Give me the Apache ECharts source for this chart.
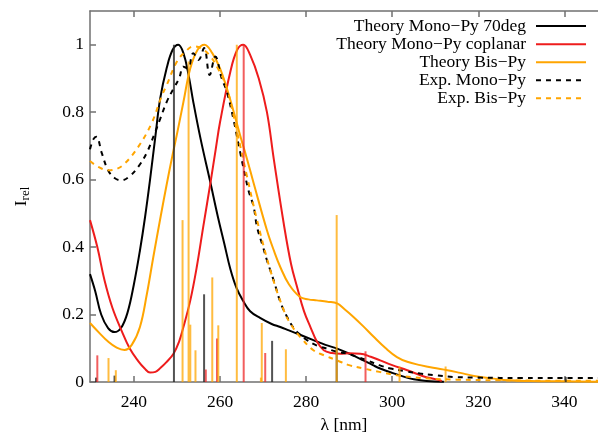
<!DOCTYPE html>
<html>
<head>
<meta charset="utf-8">
<script src="https://cdn.jsdelivr.net/npm/echarts@6/dist/echarts.min.js"></script>
<style>
  html, body { margin: 0; padding: 0; background: #fff; }
  #chart { width: 598px; height: 434px; }
</style>
</head>
<body>
<div id="chart"></div>
<script>
// 横轴刻度
const xTicks = [240, 260, 280, 300, 320, 340]
const yTicks = [0, 0.2, 0.4, 0.6, 0.8, 1]

// 图例名称
const names = [
  'Theory Mono\u2212Py 70deg',
  'Theory Mono\u2212Py coplanar',
  'Theory Bis\u2212Py',
  'Exp. Mono\u2212Py',
  'Exp. Bis\u2212Py'
]

// 理论谱 [λ, I]
const mono70 = [
  [229.8, 0.32], [231, 0.27], [232.4, 0.2], [234, 0.16], [235.5, 0.148], [237, 0.16],
  [238.5, 0.205], [240, 0.29], [241.4, 0.39], [242.6, 0.49], [243.75, 0.6], [245, 0.73],
  [246.1, 0.84], [247.6, 0.93], [249, 0.985], [250.3, 1.0], [251.5, 0.975], [252.7, 0.91],
  [253.8, 0.83], [255.5, 0.72], [257.7, 0.595], [259.5, 0.49], [261, 0.41], [262.4, 0.335],
  [263.8, 0.28], [265.4, 0.24], [267, 0.21], [269.3, 0.19], [272, 0.172], [274, 0.163],
  [276, 0.153], [278.6, 0.14], [281.7, 0.124], [284.5, 0.11], [287.2, 0.099], [290, 0.084],
  [293.3, 0.064], [295.5, 0.05], [297.2, 0.04], [300, 0.027], [303.4, 0.013], [305, 0.008],
  [308, 0.003], [312, 0.001]
]
const monoCop = [
  [229.8, 0.48], [231.5, 0.4], [233.2, 0.3], [235, 0.22], [237.1, 0.153], [239, 0.1],
  [241, 0.062], [242.5, 0.04], [243.75, 0.028], [245, 0.03], [246.2, 0.042],
  [247.5, 0.058], [249.2, 0.084], [250.5, 0.12], [251.5, 0.163], [253.1, 0.242],
  [254.6, 0.341], [256.1, 0.46], [257.9, 0.6], [259, 0.69], [260, 0.77], [262.4, 0.92],
  [264, 0.985], [265.4, 1.0], [267, 0.97], [269, 0.9], [270.9, 0.8], [272.5, 0.66],
  [274.8, 0.47], [276.5, 0.35], [277.9, 0.282], [279.5, 0.21], [281, 0.163], [282.5, 0.12],
  [284.1, 0.094], [286, 0.086], [288, 0.084], [290, 0.085], [292.6, 0.084], [295, 0.075],
  [297.2, 0.064], [300, 0.05], [303.5, 0.035], [307, 0.018], [310.4, 0.007], [311.5, 0.003]
]
const bisPy = [
  [229.8, 0.175], [232, 0.145], [234, 0.12], [236, 0.102], [237.8, 0.095], [239.5, 0.11],
  [241.4, 0.163], [243, 0.26], [244.5, 0.37], [246.2, 0.49], [247.6, 0.585], [249, 0.675],
  [250, 0.735], [251.5, 0.83], [253.1, 0.93], [254.8, 0.985], [256.4, 1.0], [258.2, 0.975],
  [260, 0.93], [261.6, 0.87], [263.2, 0.8], [264.7, 0.73], [266.3, 0.66], [267.8, 0.59],
  [270.9, 0.45], [272.5, 0.39], [274, 0.341], [276, 0.29], [278.6, 0.252], [280.5, 0.245],
  [282.5, 0.242], [285, 0.238], [287.2, 0.233], [289, 0.215], [291, 0.193], [293.3, 0.165],
  [295.7, 0.134], [298.5, 0.1], [301.1, 0.074], [303.5, 0.06], [306.5, 0.05],
  [309.5, 0.042], [312.8, 0.035], [315.8, 0.027], [319, 0.018], [323.6, 0.01],
  [327, 0.005], [332, 0.003], [340, 0.002], [347.8, 0.001]
]

// 实验谱 [λ, I]
const expMono = [
  [229.8, 0.69], [230.6, 0.72], [231.3, 0.727], [232.5, 0.68], [234, 0.628],
  [235.5, 0.605], [237.1, 0.598], [239, 0.61], [241, 0.638], [243, 0.68], [244.9, 0.74],
  [246.1, 0.78], [247.6, 0.83], [249.2, 0.87], [250.5, 0.9], [251.5, 0.935], [252.5, 0.93],
  [253.8, 0.975], [255, 0.955], [256.3, 0.99], [257.6, 0.91], [258.9, 0.965],
  [260.4, 0.9], [261.6, 0.86], [263.1, 0.78], [264.7, 0.68], [266.6, 0.569], [267.8, 0.52],
  [268.6, 0.46], [270, 0.4], [270.9, 0.361], [272.5, 0.3], [274, 0.238], [275.5, 0.195],
  [277.1, 0.16], [278.6, 0.14], [280.2, 0.124], [282.5, 0.108], [284.8, 0.099],
  [287, 0.09], [289.5, 0.084], [292, 0.074], [294.2, 0.064], [297, 0.05], [299.6, 0.04],
  [303, 0.032], [306.5, 0.025], [310, 0.02], [314.2, 0.015], [320, 0.013], [330, 0.012],
  [340, 0.012], [347.8, 0.012]
]
const expBis = [
  [229.8, 0.655], [231.7, 0.638], [234, 0.628], [236, 0.632], [237.9, 0.648],
  [241, 0.697], [244.1, 0.767], [246.4, 0.846], [247.6, 0.88], [250, 0.95],
  [252, 0.98], [253.8, 0.995], [255.5, 0.99], [257.5, 0.97], [259.5, 0.93], [261.6, 0.87],
  [263.9, 0.745], [266.3, 0.608], [268.6, 0.48], [271.7, 0.331], [274.8, 0.213],
  [276.5, 0.17], [278.6, 0.134], [281.7, 0.094], [284, 0.08], [287.2, 0.064], [290, 0.05],
  [293.4, 0.04], [297, 0.03], [301.1, 0.02], [305, 0.014], [308.9, 0.01], [315, 0.007],
  [325, 0.005], [335, 0.004], [347.8, 0.004]
]

// 跃迁棒线 [λ, f]
const sticksMono70 = [
  [231.2, 0.013], [235.5, 0.019], [249.3, 1.0], [256.3, 0.26], [272.1, 0.122],
  [287.1, 0.1], [340.3, 0.015]
]
const sticksCop = [
  [231.5, 0.079], [256.7, 0.037], [259.3, 0.129], [265.5, 1.0], [270.5, 0.086],
  [293.8, 0.091]
]
const sticksBis = [
  [234.1, 0.071], [235.8, 0.035], [251.3, 0.48], [252.7, 0.95], [253.1, 0.17],
  [254.3, 0.094], [258.2, 0.31], [259.6, 0.168], [263.9, 1.0], [269.5, 0.013],
  [269.7, 0.175], [275.3, 0.097], [287.1, 0.495], [301.7, 0.046], [312.4, 0.046]
]

const FONT = 'Liberation Serif'
const AXIS_COLOR = '#707070'

const chart = echarts.init(document.getElementById('chart'))

function stickSeries(data, color, width) {
  return {
    type: 'custom',
    data: data,
    z: 5,
    silent: true,
    clip: true,
    renderItem: (params, api) => {
      const x = api.value(0)
      const p0 = api.coord([x, 0])
      const p1 = api.coord([x, api.value(1)])
      return {
        type: 'line',
        shape: { x1: p0[0], y1: p0[1], x2: p1[0], y2: p1[1] },
        style: { stroke: color, lineWidth: width }
      }
    }
  }
}

function curve(name, data, color, dashed) {
  return {
    name: name,
    type: 'line',
    data: data,
    smooth: 0.4,
    symbol: 'none',
    z: 3,
    lineStyle: { color: color, width: 2, type: dashed ? [5, 5] : 'solid' },
    itemStyle: { color: color }
  }
}

// 每条图例单独右对齐
const legendTops = [17, 35.2, 53.2, 71.2, 89.2]
const legends = names.map((n, i) => ({
  data: [n],
  right: 11,
  top: legendTops[i],
  padding: 0,
  align: 'right',
  itemWidth: 50,
  itemHeight: 14,
  selectedMode: false,
  itemStyle: { opacity: 0 },
  textStyle: { fontFamily: FONT, fontSize: 17.5, color: '#000', padding: [0, 5, 0, 0] }
}))

const option = {
  animation: false,
  backgroundColor: '#fff',
  grid: { left: 90, right: 0, top: 11, bottom: 52, outerBoundsMode: 'none' },
  legend: legends,
  xAxis: [
    {
      type: 'value',
      min: 229.8,
      max: 347.8,
      name: '\u03bb [nm]',
      nameLocation: 'middle',
      nameGap: 34,
      nameTextStyle: { fontFamily: FONT, fontSize: 17.5, color: '#000' },
      axisLine: { show: true, lineStyle: { color: AXIS_COLOR, width: 1.5 } },
      axisTick: { show: true, inside: true, length: 6, customValues: xTicks, lineStyle: { color: AXIS_COLOR, width: 1.5 } },
      axisLabel: { customValues: xTicks, margin: 11, fontFamily: FONT, fontSize: 17.5, color: '#000' },
      splitLine: { show: false }
    },
    {
      type: 'value',
      position: 'top',
      min: 229.8,
      max: 347.8,
      axisLine: { show: true, lineStyle: { color: AXIS_COLOR, width: 1.5 } },
      axisTick: { show: true, inside: true, length: 6, customValues: xTicks, lineStyle: { color: AXIS_COLOR, width: 1.5 } },
      axisLabel: { show: false },
      splitLine: { show: false }
    }
  ],
  yAxis: {
    type: 'value',
    min: 0,
    max: 1.1,
    name: '{i|I}{s|rel}',
    nameLocation: 'middle',
    nameRotate: 90,
    nameGap: 58,
    nameTextStyle: {
      rich: {
        i: { fontFamily: FONT, fontSize: 17.5, color: '#000' },
        s: { fontFamily: FONT, fontSize: 13, color: '#000', padding: [8, 0, 0, 0] }
      }
    },
    axisLine: { show: true, lineStyle: { color: AXIS_COLOR, width: 1.5 } },
    axisTick: { show: true, inside: true, length: 6, customValues: yTicks, lineStyle: { color: AXIS_COLOR, width: 1.5 } },
    axisLabel: { customValues: yTicks, margin: 6, fontFamily: FONT, fontSize: 17.5, color: '#000' },
    splitLine: { show: false }
  },
  series: [
    curve(names[0], mono70, '#000000', false),
    curve(names[1], monoCop, '#ee1c1c', false),
    curve(names[2], bisPy, '#ffa500', false),
    curve(names[3], expMono, '#000000', true),
    curve(names[4], expBis, '#ffa500', true),
    stickSeries(sticksMono70, 'rgba(40,40,40,0.8)', 2),
    stickSeries(sticksCop, 'rgba(238,40,40,0.75)', 2),
    stickSeries(sticksBis, 'rgba(255,165,0,0.75)', 2)
  ]
}

chart.setOption(option)
</script>
</body>
</html>
